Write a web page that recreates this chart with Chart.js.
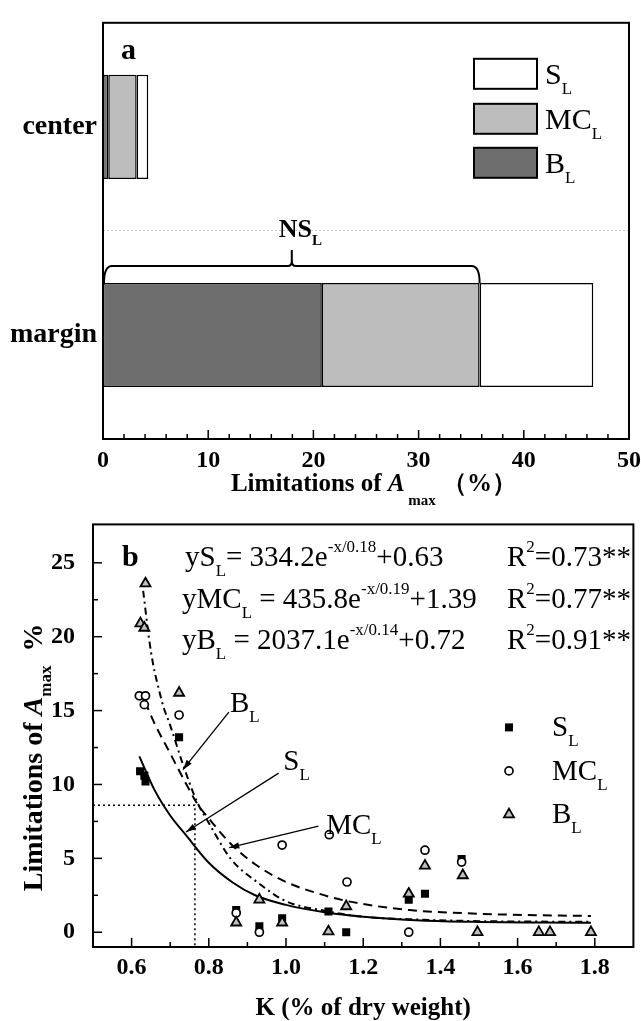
<!DOCTYPE html>
<html><head><meta charset="utf-8">
<script src="https://cdn.jsdelivr.net/npm/chart.js@4.4.0/dist/chart.umd.min.js"></script>
<style>
html,body{margin:0;padding:0;background:#fff;}
body{width:641px;height:1021px;position:relative;overflow:hidden;}
#ca{position:absolute;left:0;top:0;}
#cb{position:absolute;left:0;top:500px;}
</style></head><body>
<canvas id="ca" width="641" height="515"></canvas>
<canvas id="cb" width="641" height="521"></canvas>
<script>
// ---------- Panel a data ----------
const locations = ['center', 'margin'];
const bLimA = [0.5, 20.8];
const mcLimA = [2.7, 15.0];
const sLimA = [1.1, 10.8];
const xTicksA = [0, 10, 20, 30, 40, 50];

// ---------- Panel b data ----------
const kS  = [0.622, 0.633, 0.636, 0.723, 0.871, 0.931, 0.990, 1.110, 1.156, 1.318, 1.360, 1.455];
const sL  = [10.9, 10.6, 10.2, 13.2, 1.5, 0.4, 0.95, 1.4, 0.0, 2.2, 2.6, 4.95];
const kMC = [0.620, 0.636, 0.633, 0.723, 0.871, 0.931, 0.990, 1.112, 1.158, 1.318, 1.360, 1.455];
const mcL = [16.0, 16.0, 15.4, 14.7, 1.3, 0.0, 5.9, 6.6, 3.4, 0.0, 5.55, 4.75];
const kB  = [0.623, 0.633, 0.636, 0.723, 0.871, 0.931, 0.990, 1.110, 1.156, 1.318, 1.360, 1.458, 1.496, 1.655, 1.684, 1.790];
const bL  = [20.9, 20.6, 23.6, 16.2, 0.65, 2.2, 0.65, 0.05, 1.75, 2.6, 4.5, 3.85, 0.0, 0.0, 0.0, 0.0];

// fitted curves
const fitSx  = [0.62, 0.66, 0.70, 0.74, 0.80, 0.86, 0.92, 1.00, 1.10, 1.20, 1.35, 1.50, 1.65, 1.79];
const fitSy  = [11.9, 9.6, 7.9, 6.6, 4.7, 3.4, 2.5, 1.85, 1.35, 1.05, 0.8, 0.7, 0.66, 0.64];
const fitMCx = [0.635, 0.66, 0.70, 0.74, 0.77, 0.80, 0.86, 0.92, 1.00, 1.08, 1.16, 1.32, 1.50, 1.65, 1.79];
const fitMCy = [15.6, 14.1, 12.1, 10.1, 8.7, 7.7, 5.9, 4.6, 3.4, 2.65, 2.1, 1.5, 1.25, 1.15, 1.1];
const fitBx  = [0.630, 0.645, 0.656, 0.669, 0.682, 0.700, 0.735, 0.770, 0.800, 0.856, 0.930, 1.00, 1.10, 1.20, 1.35, 1.50, 1.65, 1.79];
const fitBy  = [23.1, 19.9, 18.1, 16.6, 15.3, 14.0, 11.2, 8.8, 7.4, 5.0, 3.3, 2.1, 1.45, 1.05, 0.85, 0.75, 0.72, 0.71];
const refX = [0.5, 0.764, 0.764];
const refY = [8.6, 8.6, -1];
const xTicksB = [0.6, 0.8, 1.0, 1.2, 1.4, 1.6, 1.8];
const yTicksB = [0, 5, 10, 15, 20, 25];

// annotation arrows (data units)
const annText   = ['B', 'S', 'MC'];
const annFromK  = [0.852, 0.981, 1.084];
const annFromY  = [14.9, 10.77, 7.18];
const annToK    = [0.733, 0.741, 0.853];
const annToY    = [11.0, 6.78, 5.72];
const annLabK   = [0.855, 0.993, 1.104];
const annLabY   = [14.9, 10.97, 6.65];

const SERIF = "'Liberation Serif','Times New Roman',serif";
const F = (size, weight, style) => `${style || 'normal'} ${weight || 'normal'} ${size}px ${SERIF}`;
function richWidth(ctx, parts) { let w = 0; for (const p of parts) { ctx.font = p.f; w += ctx.measureText(p.t).width; } return w; }
function drawRich(ctx, parts, x, y) { for (const p of parts) { ctx.font = p.f; ctx.fillText(p.t, x, y + (p.dy || 0)); x += ctx.measureText(p.t).width; } return x; }
function seg(ctx, x1, y1, x2, y2) { ctx.beginPath(); ctx.moveTo(x1, y1); ctx.lineTo(x2, y2); ctx.stroke(); }

const GRAY_B = '#6e6e6e', GRAY_MC = '#bdbdbd';

// ---------- Panel a ----------
const pluginA = {
  id: 'pa',
  afterDraw(chart) {
    const { ctx, chartArea: a, scales: { x } } = chart;
    ctx.save();
    ctx.fillStyle = '#000'; ctx.strokeStyle = '#000';
    ctx.lineWidth = 2;
    ctx.strokeRect(a.left, a.top, a.right - a.left, a.bottom - a.top);
    ctx.lineWidth = 1.5;
    for (let v = 2; v < 50; v += 2) {
      const px = x.getPixelForValue(v);
      seg(ctx, px, a.bottom, px, a.bottom - (v % 10 === 0 ? 9 : 5));
    }
    // brace over B_L + MC_L of margin
    const bar = chart.getDatasetMeta(0).data[1];
    const barTop = bar.y - bar.height / 2;
    const x0 = x.getPixelForValue(0) + 1;
    const x1 = x.getPixelForValue(bLimA[1] + mcLimA[1]);
    const mid = (x0 + x1) / 2;
    const by = barTop - 17;
    ctx.lineWidth = 2;
    ctx.beginPath();
    ctx.moveTo(x0, barTop);
    ctx.quadraticCurveTo(x0, by, x0 + 8, by);
    ctx.lineTo(mid - 4, by);
    ctx.quadraticCurveTo(mid, by, mid, by - 5);
    ctx.lineTo(mid, by - 16);
    ctx.moveTo(mid, by - 5);
    ctx.quadraticCurveTo(mid, by, mid + 4, by);
    ctx.lineTo(x1 - 8, by);
    ctx.quadraticCurveTo(x1, by, x1, barTop);
    ctx.stroke();
    ctx.textAlign = 'left'; ctx.textBaseline = 'alphabetic';
    drawRich(ctx, [{ t: 'NS', f: F(26, 'bold') }, { t: 'L', f: F(15, 'bold'), dy: 8 }], mid - 13, by - 29);
    // panel letter
    ctx.font = F(30, 'bold'); ctx.fillText('a', a.left + 18, a.top + 36);
    // legend
    const lx = a.right - 155;
    const rows = [
      { y: a.top + 36, fill: '#ffffff', t: 'S' },
      { y: a.top + 81, fill: GRAY_MC, t: 'MC' },
      { y: a.top + 125, fill: GRAY_B, t: 'B' }
    ];
    for (const r of rows) {
      ctx.fillStyle = r.fill; ctx.fillRect(lx, r.y, 63, 30);
      ctx.lineWidth = 2; ctx.strokeRect(lx, r.y, 63, 30);
      ctx.fillStyle = '#000';
      drawRich(ctx, [{ t: r.t, f: F(30) }, { t: 'L', f: F(17), dy: 10 }], lx + 71, r.y + 25);
    }
    // x title
    const tp = [
      { t: 'Limitations of ', f: F(25, 'bold') },
      { t: 'A', f: F(25, 'bold', 'italic') },
      { t: ' max', f: F(15, 'bold'), dy: 14 },
      { t: ' \uFF08%\uFF09', f: F(25, 'bold') }
    ];
    const w = richWidth(ctx, tp);
    drawRich(ctx, tp, 374 - w / 2, a.bottom + 52);
    ctx.restore();
  }
};

new Chart(document.getElementById('ca'), {
  type: 'bar',
  data: {
    labels: locations,
    datasets: [
      { label: 'B_L', data: bLimA, backgroundColor: GRAY_B },
      { label: 'MC_L', data: mcLimA, backgroundColor: GRAY_MC },
      { label: 'S_L', data: sLimA, backgroundColor: '#ffffff' }
    ].map(d => Object.assign(d, { borderColor: '#000', borderWidth: 1.5, borderSkipped: false, categoryPercentage: 0.5, barPercentage: 1 }))
  },
  options: {
    indexAxis: 'y', responsive: false, animation: false,
    layout: { padding: { top: 12, right: 12, left: 0, bottom: 0 } },
    plugins: { legend: { display: false }, tooltip: { enabled: false } },
    scales: {
      x: {
        stacked: true, min: 0, max: 50,
        afterBuildTicks: s => { s.ticks = xTicksA.map(v => ({ value: v })); },
        afterFit: s => { s.height = 515 - 439; },
        grid: { display: false }, border: { display: false },
        ticks: { color: '#000', font: { family: SERIF, weight: 'bold', size: 24 }, padding: -1, maxRotation: 0, autoSkip: false }
      },
      y: {
        stacked: true,
        afterFit: s => { s.width = 103; },
        grid: { color: c => c.index === 1 ? '#c8c8c8' : 'rgba(0,0,0,0)', drawTicks: false, lineWidth: 1 },
        border: { display: false, dash: [2, 2] },
        ticks: { color: '#000', font: { family: SERIF, weight: 'bold', size: 28 }, padding: 6 }
      }
    }
  },
  plugins: [pluginA]
});

// ---------- Panel b ----------
function drawMarker(ctx, style, x, y) {
  ctx.save();
  ctx.strokeStyle = '#000';
  if (style === 'rect') { ctx.fillStyle = '#000'; ctx.fillRect(x - 4, y - 4, 8, 8); }
  else if (style === 'circle') { ctx.fillStyle = '#fff'; ctx.lineWidth = 1.7; ctx.beginPath(); ctx.arc(x, y, 4, 0, Math.PI * 2); ctx.fill(); ctx.stroke(); }
  else {
    const r = 5.8; ctx.fillStyle = '#c0c0c0'; ctx.lineWidth = 1.8;
    ctx.beginPath();
    ctx.moveTo(x, y - r);
    ctx.lineTo(x + r * Math.sin(Math.PI * 2 / 3), y - r * Math.cos(Math.PI * 2 / 3));
    ctx.lineTo(x + r * Math.sin(Math.PI * 4 / 3), y - r * Math.cos(Math.PI * 4 / 3));
    ctx.closePath(); ctx.fill(); ctx.stroke();
  }
  ctx.restore();
}

const pluginB = {
  id: 'pb',
  afterDraw(chart) {
    const { ctx, chartArea: a, scales: { x, y } } = chart;
    ctx.save();
    ctx.fillStyle = '#000'; ctx.strokeStyle = '#000';
    ctx.lineWidth = 2;
    ctx.strokeRect(a.left, a.top, a.right - a.left, a.bottom - a.top);
    ctx.lineWidth = 1.5;
    for (let i = 6; i <= 18; i++) {
      const px = x.getPixelForValue(i / 10);
      seg(ctx, px, a.bottom, px, a.bottom - (i % 2 === 0 ? 9 : 5));
    }
    for (let i = 0; i <= 10; i++) {
      const py = y.getPixelForValue(i * 2.5);
      seg(ctx, a.left, py, a.left + (i % 2 === 0 ? 9 : 5), py);
    }
    ctx.textAlign = 'left'; ctx.textBaseline = 'alphabetic';
    // panel letter
    ctx.font = F(30, 'bold'); ctx.fillText('b', a.left + 29, a.top + 42);
    // equations
    const eqs = [
      [{ t: 'yS', f: F(29) }, { t: 'L', f: F(17), dy: 10 }, { t: '= 334.2e', f: F(29) }, { t: '-x/0.18', f: F(17), dy: -14 }, { t: '+0.63', f: F(29) }],
      [{ t: 'yMC', f: F(29) }, { t: 'L', f: F(17), dy: 10 }, { t: ' = 435.8e', f: F(29) }, { t: '-x/0.19', f: F(17), dy: -14 }, { t: '+1.39', f: F(29) }],
      [{ t: 'yB', f: F(29) }, { t: 'L', f: F(17), dy: 10 }, { t: ' = 2037.1e', f: F(29) }, { t: '-x/0.14', f: F(17), dy: -14 }, { t: '+0.72', f: F(29) }]
    ];
    const r2 = ['=0.73**', '=0.77**', '=0.91**'];
    const eqX = [a.left + 92, a.left + 89, a.left + 89];
    for (let i = 0; i < 3; i++) {
      const by = a.top + 42 + i * 41.5;
      drawRich(ctx, eqs[i], eqX[i], by);
      drawRich(ctx, [{ t: 'R', f: F(29) }, { t: '2', f: F(17), dy: -14 }, { t: r2[i], f: F(29) }], a.left + 414, by);
    }
    // legend
    const lg = [['rect', 'S'], ['circle', 'MC'], ['triangle', 'B']];
    lg.forEach((g, i) => {
      const ly = a.top + 203 + i * 43.5;
      drawMarker(ctx, g[0], a.left + 416, ly);
      ctx.fillStyle = '#000';
      drawRich(ctx, [{ t: g[1], f: F(29) }, { t: 'L', f: F(17), dy: 10 }], a.left + 459, ly + 9);
    });
    // arrows
    ctx.lineWidth = 1.3;
    for (let i = 0; i < annText.length; i++) {
      const fx = x.getPixelForValue(annFromK[i]), fy = y.getPixelForValue(annFromY[i]);
      const tx = x.getPixelForValue(annToK[i]), ty = y.getPixelForValue(annToY[i]);
      seg(ctx, fx, fy, tx, ty);
      const ang = Math.atan2(ty - fy, tx - fx);
      const L = 10, W = 3.2;
      ctx.beginPath();
      ctx.moveTo(tx, ty);
      ctx.lineTo(tx - L * Math.cos(ang) + W * Math.sin(ang), ty - L * Math.sin(ang) - W * Math.cos(ang));
      ctx.lineTo(tx - L * Math.cos(ang) - W * Math.sin(ang), ty - L * Math.sin(ang) + W * Math.cos(ang));
      ctx.closePath(); ctx.fill();
      drawRich(ctx, [{ t: annText[i], f: F(29) }, { t: 'L', f: F(17), dy: 10 }], x.getPixelForValue(annLabK[i]), y.getPixelForValue(annLabY[i]));
    }
    // x title
    ctx.font = F(25, 'bold');
    ctx.textAlign = 'center';
    ctx.fillText('K (% of dry weight)', (a.left + a.right) / 2, a.bottom + 68);
    ctx.textAlign = 'left';
    // y title (rotated)
    const yp = [
      { t: 'Limitations of ', f: F(28, 'bold') },
      { t: 'A', f: F(28, 'bold', 'italic') },
      { t: 'max', f: F(17, 'bold'), dy: 9 },
      { t: '  %', f: F(28, 'bold') }
    ];
    const yw = richWidth(ctx, yp);
    ctx.translate(42, a.top + 233);
    ctx.rotate(-Math.PI / 2);
    drawRich(ctx, yp, -yw / 2, 0);
    ctx.restore();
  }
};

const pts = (xs, ys) => xs.map((v, i) => ({ x: v, y: ys[i] }));
const lineDs = (xs, ys, dash, order) => ({
  data: pts(xs, ys), showLine: true, pointRadius: 0, borderColor: '#000', borderWidth: 2,
  borderDash: dash, cubicInterpolationMode: 'monotone', fill: false, order: order
});

new Chart(document.getElementById('cb'), {
  type: 'scatter',
  data: {
    datasets: [
      { label: 'B_L', data: pts(kB, bL), pointStyle: 'triangle', pointRadius: 5.8, backgroundColor: '#c0c0c0', borderColor: '#000', borderWidth: 1.8, order: 0 },
      { label: 'MC_L', data: pts(kMC, mcL), pointStyle: 'circle', pointRadius: 4, backgroundColor: '#fff', borderColor: '#000', borderWidth: 1.7, order: 1 },
      { label: 'S_L', data: pts(kS, sL), pointStyle: 'rect', pointRadius: 5.7, backgroundColor: '#000', borderColor: '#000', borderWidth: 0, order: 2 },
      lineDs(fitSx, fitSy, [], 3),
      lineDs(fitMCx, fitMCy, [9, 6], 4),
      lineDs(fitBx, fitBy, [7, 4, 2, 4], 5),
      Object.assign(lineDs(refX, refY, [2, 3], 6), { borderWidth: 1.5, cubicInterpolationMode: 'default', tension: 0 })
    ]
  },
  options: {
    responsive: false, animation: false,
    layout: { padding: { top: 17, right: 2, left: 0, bottom: 0 } },
    plugins: { legend: { display: false }, tooltip: { enabled: false } },
    scales: {
      x: {
        type: 'linear', min: 0.5, max: 1.9,
        afterBuildTicks: s => { s.ticks = xTicksB.map(v => ({ value: v })); },
        afterFit: s => { s.height = 521 - 447; },
        grid: { display: false }, border: { display: false },
        ticks: { color: '#000', font: { family: SERIF, weight: 'bold', size: 24 }, padding: -2, maxRotation: 0, autoSkip: false, callback: v => Number(v).toFixed(1) }
      },
      y: {
        type: 'linear', min: -1, max: 27.6,
        afterBuildTicks: s => { s.ticks = yTicksB.map(v => ({ value: v })); },
        afterFit: s => { s.width = 93; },
        grid: { display: false }, border: { display: false },
        ticks: { color: '#000', font: { family: SERIF, weight: 'bold', size: 24 }, padding: 10 }
      }
    }
  },
  plugins: [pluginB]
});
</script>
</body></html>
